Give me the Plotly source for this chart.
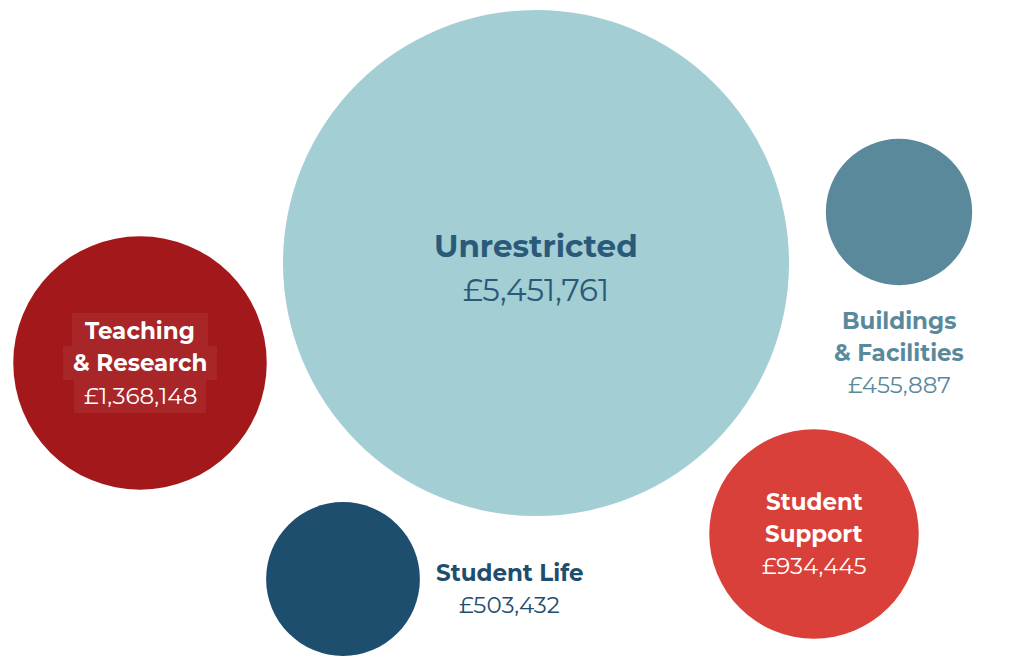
import plotly.graph_objects as go

categories = ["Unrestricted", "Teaching & Research", "Buildings & Facilities", "Student Support", "Student Life"]
name_lines = [["Unrestricted"], ["Teaching", "& Research"], ["Buildings", "& Facilities"], ["Student", "Support"], ["Student Life"]]
values = [5451761, 1368148, 455887, 934445, 503432]
value_labels = ["£5,451,761", "£1,368,148", "£455,887", "£934,445", "£503,432"]

# layout (pixel space) for the packed bubbles
cx = [536, 140, 899, 814, 343]
cy = [263, 363, 212, 534, 579]
fill_colors = ["#a3ced3", "#a3181b", "#5b899c", "#d9403a", "#1d4e6e"]
text_colors = ["#2a5a7a", "#ffffff", "#5b899c", "#ffffff", "#1d4e6e"]
label_x = [536, 140, 899, 814, 509]
label_top = [246, 331, 321, 502, 573]
line_gap = [0, 32, 32, 32, 0]
value_gap = [44, 33, 32, 32, 32]
name_size = [31, 23, 23, 23, 23]
value_size = [31, 23, 23, 23, 23]

FONT = "Montserrat, 'Open Sans', sans-serif"
OFF = 8  # page body margin compensation

fig = go.Figure()
fig.add_trace(go.Scatter(
    x=cx, y=cy, mode="markers",
    marker=dict(size=values, sizemode="area", sizeref=42.58,
                color=fill_colors, opacity=1, line=dict(width=0)),
    hovertext=categories, hoverinfo="text", showlegend=False,
))

annotations = []
shapes = []
for i in range(len(categories)):
    y = label_top[i]
    for j, ln in enumerate(name_lines[i]):
        annotations.append(dict(
            x=label_x[i], y=y + j * line_gap[i], xref="x", yref="y", text=ln,
            showarrow=False, xanchor="center", yanchor="middle",
            font=dict(family=FONT, size=name_size[i], color=text_colors[i], weight=700),
        ))
    vy = y + (len(name_lines[i]) - 1) * line_gap[i] + value_gap[i]
    annotations.append(dict(
        x=label_x[i], y=vy, xref="x", yref="y", text=value_labels[i],
        showarrow=False, xanchor="center", yanchor="middle",
        font=dict(family=FONT, size=value_size[i], color=text_colors[i], weight=400),
    ))

# subtle highlight boxes behind the Teaching & Research label
box_fill = "rgba(255,255,255,0.06)"
for (x0, x1, y0, y1) in [(72, 208, 313, 346), (63, 217, 346, 380), (74, 206, 380, 413)]:
    shapes.append(dict(type="rect", xref="x", yref="y", x0=x0, x1=x1, y0=y0, y1=y1,
                       fillcolor=box_fill, line=dict(width=0), layer="above"))

fig.update_layout(
    width=1020, height=671,
    margin=dict(l=0, r=0, t=0, b=0),
    paper_bgcolor="white", plot_bgcolor="white",
    xaxis=dict(range=[OFF, 1020 + OFF], visible=False, fixedrange=True),
    yaxis=dict(range=[671 + OFF, OFF], visible=False, fixedrange=True),
    annotations=annotations, shapes=shapes,
)

fig.write_html("out.html")
